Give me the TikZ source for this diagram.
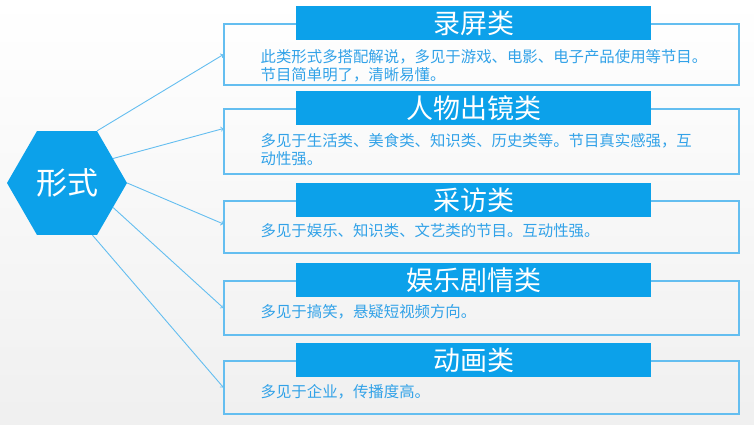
\documentclass[tikz,border=0pt]{standalone}
\usepackage{fontspec}
\setmainfont{Noto Sans CJK SC}
\usetikzlibrary{shapes.geometric}
\definecolor{barblue}{RGB}{12,161,234}
\definecolor{lineblue}{RGB}{100,190,240}
\definecolor{textblue}{RGB}{50,162,232}

\begin{document}
\begin{tikzpicture}[x=1pt, y=-1pt,
	hexa/.style={regular polygon, regular polygon sides=6, minimum size=120pt, inner sep=0pt, fill=barblue, text=white, font=\fontsize{31}{31}\selectfont},
	card/.style={draw=lineblue, line width=1.1pt, minimum width=515pt, inner sep=0pt},
	bar/.style={fill=barblue, text=white, minimum width=355pt, minimum height=34pt, inner sep=0pt, font=\fontsize{27}{27}\selectfont},
	body/.style={anchor=north west, inner sep=0pt, align=left, text=textblue, font=\fontsize{15.4}{18}\selectfont},
	link/.style={draw=lineblue, line width=0.9pt, ->}]
				\useasboundingbox (0,0) rectangle (754,424);
				\shade[top color=white, bottom color=black!6] (0,0) rectangle (754,424);
				\node[hexa] (xs) at (67,183) {形式};
				% five cards
				\node[card, minimum height=61pt] (box1) at (481.5,54.5) {};
				\node[card, minimum height=65pt] (box2) at (481.5,141.5) {};
				\node[card, minimum height=52pt] (box3) at (481.5,227) {};
				\node[card, minimum height=54pt] (box4) at (481.5,308) {};
				\node[card, minimum height=53pt] (box5) at (481.5,387.5) {};
				\node[bar] (t1) at ([xshift=-8pt]box1.north) {录屏类};
				\node[bar] (t2) at ([xshift=-8pt]box2.north) {人物出镜类};
				\node[bar] (t3) at ([xshift=-8pt]box3.north) {采访类};
				\node[bar] (t4) at ([xshift=-8pt]box4.north) {娱乐剧情类};
				\node[bar] (t5) at ([xshift=-8pt]box5.north) {动画类};
				\node[body] (b1) at ([xshift=37pt, yshift=-26pt]box1.north west) {此类形式多搭配解说，多见于游戏、电影、电子产品使用等节目。\\节目简单明了，清晰易懂。};
				\node[body] (b2) at ([xshift=37pt, yshift=-25pt]box2.north west) {多见于生活类、美食类、知识类、历史类等。节目真实感强，互\\动性强。};
				\node[body] (b3) at ([xshift=37pt, yshift=-23pt]box3.north west) {多见于娱乐、知识类、文艺类的节目。互动性强。};
				\node[body] (b4) at ([xshift=37pt, yshift=-24pt]box4.north west) {多见于搞笑，悬疑短视频方向。};
				\node[body] (b5) at ([xshift=37pt, yshift=-24pt]box5.north west) {多见于企业，传播度高。};
				% connectors
				\draw[link] (xs.60) -- (box1.west);
				\draw[link] (xs.28) -- ([yshift=13pt]box2.west);
				\draw[link] (xs.0) -- ([yshift=3pt]box3.west);
				\draw[link] (xs.332) -- (box4.west);
				\draw[link] (xs.296) -- (box5.west);
			\end{tikzpicture}
\end{document}
